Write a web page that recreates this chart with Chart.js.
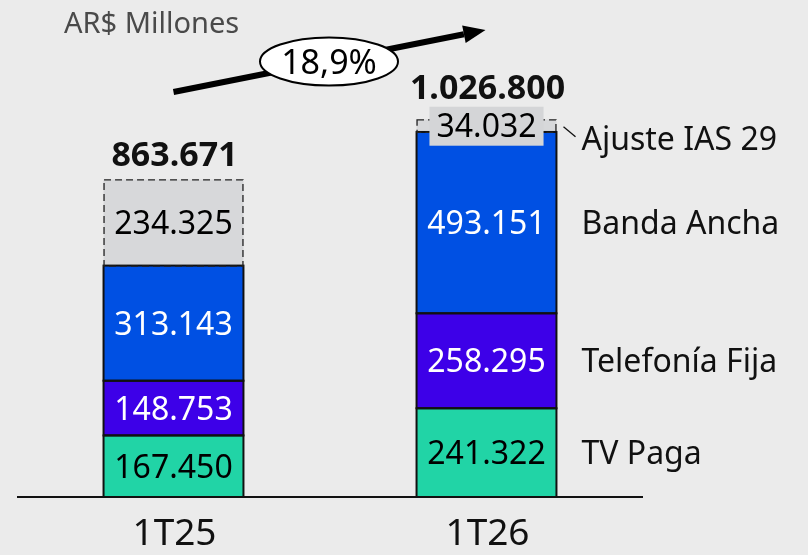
<!DOCTYPE html>
<html>
<head>
<meta charset="utf-8">
<script src="https://cdn.jsdelivr.net/npm/chart.js@4.4.1/dist/chart.umd.min.js"></script>
<style>
  html, body { margin: 0; padding: 0; background: #ebebeb; }
  #wrap { width: 808px; height: 555px; }
</style>
</head>
<body>
<div id="wrap"><canvas id="c" width="808" height="555"></canvas></div>
<script>
// ---- data ----
const categories = ["1T25", "1T26"];
const seriesNames = ["TV Paga", "Telefonía Fija", "Banda Ancha", "Ajuste IAS 29"];
const tvPaga      = [167450, 241322];
const telefonia   = [148753, 258295];
const bandaAncha  = [313143, 493151];
const ajusteIAS29 = [234325, 34032];
const unitLabel = "AR$ Millones";

const FONT = "'Noto Sans', 'DejaVu Sans', sans-serif";
const fill   = ["#21d4a6", "#3d00e8", "#0050e3", "#d7d8da"];
const txtCol = ["#000", "#fff", "#fff", "#000"];

function fmt(v) {
  return String(Math.round(v)).replace(/\B(?=(\d{3})+(?!\d))/g, ".");
}
const totals = categories.map((_, i) => tvPaga[i] + telefonia[i] + bandaAncha[i] + ajusteIAS29[i]);
const growth = (totals[1] / totals[0] - 1) * 100;
const growthLabel = growth.toFixed(1).replace(".", ",") + "%";

const seriesData = [tvPaga, telefonia, bandaAncha, ajusteIAS29];
const datasets = seriesData.map((d, k) => ({
  label: seriesNames[k],
  data: d,
  backgroundColor: fill[k],
  borderWidth: 0,
  barPercentage: 0.894,
  categoryPercentage: 0.5
}));

const overlay = {
  id: "overlay",
  afterDatasetsDraw(chart) {
    const ctx = chart.ctx;
    const xs = chart.scales.x, ys = chart.scales.y;
    const area = chart.chartArea;
    ctx.save();

    // solid outlines for the service segments
    for (let k = 0; k < 3; k++) {
      chart.getDatasetMeta(k).data.forEach(el => {
        const w = el.width;
        ctx.strokeStyle = "#111";
        ctx.lineWidth = 2;
        ctx.strokeRect(el.x - w / 2, el.y, w, el.base - el.y);
      });
    }

    // dashed outline around the IAS 29 adjustment segments
    chart.getDatasetMeta(3).data.forEach(el => {
      const w = el.width;
      ctx.setLineDash([7, 4]);
      ctx.strokeStyle = "#222";
      ctx.lineWidth = 1.3;
      ctx.strokeRect(el.x - w / 2 + 0.5, el.y + 0.5, w - 1, el.base - el.y);
      ctx.setLineDash([]);
    });

    // baseline
    ctx.strokeStyle = "#111";
    ctx.lineWidth = 2;
    ctx.beginPath();
    ctx.moveTo(area.left, area.bottom);
    ctx.lineTo(area.right, area.bottom);
    ctx.stroke();

    // segment value labels
    ctx.textAlign = "center";
    ctx.textBaseline = "alphabetic";
    ctx.font = "32px " + FONT;
    for (let k = 0; k < 4; k++) {
      const meta = chart.getDatasetMeta(k);
      meta.data.forEach((el, i) => {
        const cy = (el.y + el.base) / 2;
        const label = fmt(seriesData[k][i]);
        if (k === 3 && i === 1) {
          const tw = ctx.measureText(label).width;
          ctx.fillStyle = "#d4d5d7";
          ctx.fillRect(el.x - tw / 2 - 7, cy - 19, tw + 14, 39);
        }
        ctx.fillStyle = txtCol[k];
        ctx.fillText(label, el.x, cy + 11.5);
      });
    }

    // totals
    ctx.font = "bold 34px " + FONT;
    ctx.fillStyle = "#111";
    const totOff = [13, 20];
    categories.forEach((c, i) => {
      const x = xs.getPixelForValue(i);
      const y = ys.getPixelForValue(totals[i]);
      ctx.fillText(fmt(totals[i]), x + 1, y - totOff[i]);
    });

    // category labels
    ctx.font = "37px " + FONT;
    ctx.fillStyle = "#111";
    categories.forEach((c, i) => {
      ctx.fillText(c, xs.getPixelForValue(i) + 1, area.bottom + 48);
    });

    // series labels beside second bar
    ctx.textAlign = "left";
    ctx.font = "32px " + FONT;
    const last = categories.length - 1;
    const lx = chart.getDatasetMeta(0).data[last].x + 95;
    for (let k = 0; k < 4; k++) {
      const el = chart.getDatasetMeta(k).data[last];
      let cy = (el.y + el.base) / 2;
      if (k === 3) {
        ctx.strokeStyle = "#111";
        ctx.lineWidth = 1.3;
        ctx.beginPath();
        ctx.moveTo(lx - 18, cy + 1);
        ctx.lineTo(lx - 6, cy + 11);
        ctx.stroke();
        cy += 13;
      }
      ctx.fillStyle = "#111";
      ctx.fillText(seriesNames[k], lx, cy + 11.5);
    }

    // unit label
    ctx.font = "29px " + FONT;
    ctx.fillStyle = "#4a4a4a";
    ctx.fillText(unitLabel, 64, 33);

    // growth arrow
    const x0 = xs.getPixelForValue(0), y0 = 92;
    const x1 = xs.getPixelForValue(1) - 1, y1 = 30;
    const dx = x1 - x0, dy = y1 - y0, L = Math.hypot(dx, dy);
    const ux = dx / L, uy = dy / L;
    const hl = 22, hw = 9;
    ctx.strokeStyle = "#000";
    ctx.lineWidth = 6;
    ctx.beginPath();
    ctx.moveTo(x0, y0);
    ctx.lineTo(x1 - ux * hl, y1 - uy * hl);
    ctx.stroke();
    ctx.fillStyle = "#000";
    ctx.beginPath();
    ctx.moveTo(x1, y1);
    ctx.lineTo(x1 - ux * hl - uy * hw, y1 - uy * hl + ux * hw);
    ctx.lineTo(x1 - ux * hl + uy * hw, y1 - uy * hl - ux * hw);
    ctx.closePath();
    ctx.fill();

    // ellipse with growth value
    const ex = 329, ey = 61.5;
    ctx.beginPath();
    ctx.ellipse(ex, ey, 69, 24, 0, 0, Math.PI * 2);
    ctx.fillStyle = "#fff";
    ctx.fill();
    ctx.lineWidth = 2;
    ctx.strokeStyle = "#000";
    ctx.stroke();
    ctx.textAlign = "center";
    ctx.fillStyle = "#000";
    ctx.font = "34px " + FONT;
    ctx.fillText(growthLabel, ex, ey + 12);

    ctx.restore();
  }
};

new Chart(document.getElementById("c"), {
  type: "bar",
  data: { labels: categories, datasets },
  options: {
    responsive: false,
    animation: false,
    layout: { padding: { left: 17, right: 165, top: 19, bottom: 58 } },
    plugins: { legend: { display: false }, tooltip: { enabled: false } },
    scales: {
      x: { stacked: true, display: false },
      y: { stacked: true, display: false, min: 0, max: 1300000 }
    }
  },
  plugins: [overlay]
});
</script>
</body>
</html>
